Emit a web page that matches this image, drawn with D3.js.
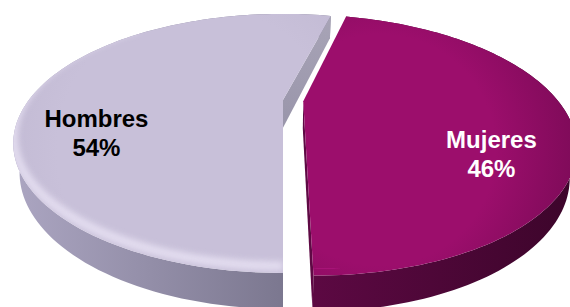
<!DOCTYPE html>
<html lang="es">
<head>
<meta charset="UTF-8">
<title>Hombres / Mujeres</title>
<script src="https://cdnjs.cloudflare.com/ajax/libs/d3/7.8.5/d3.min.js"></script>
<style>
  html, body { margin: 0; padding: 0; background: #fff; }
  svg { display: block; }
  text { font-family: "Liberation Sans", Arial, sans-serif; font-weight: bold; font-size: 24px; }
</style>
</head>
<body>
<svg id="chart" width="570" height="307"></svg>
<script>
// data
const categories = ["Mujeres", "Hombres"];
const values = [46, 54];
const pctLabels = ["46%", "54%"];

const topColors = ["#9c0e6c", "#c8c0d9"];
const rimColors = ["#7a0a56", "#bdb5cf"];
const wallColors = [["#5e0944", "#3d052b"], ["#aca6c2", "#7b778f"]];
const textColors = ["#fff", "#000"];
const explode = [0.08, 0];

const width = 570, height = 307;
const svg = d3.select("#chart");

// simple perspective camera looking down on the pie
const cam = { cx: 283, cy: 100, F: 676, D: 2.66, tilt: 26.9 * Math.PI / 180, thick: 0.125 };
const sa = Math.sin(cam.tilt), ca = Math.cos(cam.tilt);
const camPos = [0, -cam.D * ca, cam.D * sa];

function project(x, y, z) {
    const up = y * sa + z * ca;
    const depth = cam.D + y * ca - z * sa;
    return [cam.cx + cam.F * x / depth, cam.cy - cam.F * up / depth];
}

const total = d3.sum(values);
const start = Math.PI - 2 * Math.PI * values[0] / total;
const pie = d3.pie().sort(null).value(d => d)
    .startAngle(start).endAngle(start + 2 * Math.PI);
const arcs = pie(values);

const line = d3.line();

function arcPts(a0, a1, z, off, n) {
    const pts = [];
    for (let i = 0; i <= n; i++) {
        const a = a0 + (a1 - a0) * i / n;
        pts.push(project(off[0] + Math.sin(a), off[1] + Math.cos(a), z));
    }
    return pts;
}

const defs = svg.append("defs");
defs.append("filter").attr("id", "soft")
    .append("feGaussianBlur").attr("stdDeviation", 3);

// gradients
arcs.forEach((d, i) => {
    const wg = defs.append("linearGradient").attr("id", "wall" + i)
        .attr("gradientUnits", "userSpaceOnUse")
        .attr("x1", i === 1 ? 10 : 300).attr("x2", i === 1 ? 285 : 570)
        .attr("y1", 0).attr("y2", 0);
    wg.append("stop").attr("offset", 0).attr("stop-color", wallColors[i][0]);
    wg.append("stop").attr("offset", 1).attr("stop-color", wallColors[i][1]);

    const tg = defs.append("radialGradient").attr("id", "top" + i)
        .attr("gradientUnits", "userSpaceOnUse")
        .attr("cx", i === 1 ? 200 : 380).attr("cy", 150)
        .attr("r", i === 1 ? 260 : 210);
    tg.append("stop").attr("offset", 0.55).attr("stop-color", topColors[i]);
    tg.append("stop").attr("offset", 1).attr("stop-color", rimColors[i]);
});

const side = defs.append("linearGradient").attr("id", "sideH")
    .attr("gradientUnits", "userSpaceOnUse")
    .attr("x1", 0).attr("y1", 0).attr("x2", 0).attr("y2", 120);
side.append("stop").attr("offset", 0).attr("stop-color", "#aaa6b8");
side.append("stop").attr("offset", 1).attr("stop-color", "#9a96ab");

const t = -cam.thick;
const order = [1, 0];  // far slice first
const labelShift = [-3, -8];

order.forEach(i => {
    const d = arcs[i];
    const a0 = d.startAngle, a1 = d.endAngle;
    const mid = (a0 + a1) / 2;
    const off = [explode[i] * Math.sin(mid), explode[i] * Math.cos(mid)];
    const g = svg.append("g");

    // outer curved wall
    const top = arcPts(a0, a1, 0, off, 120);
    const bot = arcPts(a0, a1, t, off, 120).reverse();
    g.append("path").attr("d", line(top.concat(bot)) + "Z")
        .attr("fill", `url(#wall${i})`);

    // radial walls that face the camera
    [[a0, -1], [a1, 1]].forEach(([a, s]) => {
        const n = [s * Math.cos(a), -s * Math.sin(a), 0];
        const v = [camPos[0] - off[0], camPos[1] - off[1], camPos[2]];
        if (n[0] * v[0] + n[1] * v[1] + n[2] * v[2] <= 0.02) return;
        const ex = off[0] + Math.sin(a), ey = off[1] + Math.cos(a);
        const quad = [project(off[0], off[1], 0), project(ex, ey, 0),
                      project(ex, ey, t), project(off[0], off[1], t)];
        g.append("path").attr("d", line(quad) + "Z")
            .attr("fill", i === 1 ? "url(#sideH)" : wallColors[i][0]);
    });

    // top face
    const face = [project(off[0], off[1], 0)].concat(top);
    const facePath = line(face) + "Z";
    g.append("path").attr("d", facePath).attr("fill", `url(#top${i})`);

    // soft highlight along the front rim
    const clipId = "clip" + i;
    defs.append("clipPath").attr("id", clipId).append("path").attr("d", facePath);
    const hiA0 = Math.max(a0, Math.PI * 0.98), hiA1 = Math.min(a1, Math.PI * 1.75);
    if (hiA1 > hiA0) {
        const hi = arcPts(hiA0, hiA1, 0, off, 60).map(p => [p[0], p[1] - 7]);
        g.append("path").attr("d", line(hi))
            .attr("fill", "none")
            .attr("stroke", i === 1 ? "#ebe5f6" : "#b01580")
            .attr("stroke-width", 9)
            .attr("opacity", 0.8)
            .attr("filter", "url(#soft)")
            .attr("clip-path", `url(#${clipId})`);
    }

    // label
    const r = 0.73;
    const lp = project(off[0] + r * Math.sin(mid), off[1] + r * Math.cos(mid), 0);
    const lx = lp[0] + labelShift[i];
    const txt = g.append("text")
        .attr("text-anchor", "middle")
        .attr("fill", textColors[i])
        .attr("x", lx)
        .attr("y", lp[1] + (i === 0 ? 36 : 37));
    txt.append("tspan").attr("x", lx).text(categories[i]);
    txt.append("tspan").attr("x", lx).attr("dy", 29).text(pctLabels[i]);
});
</script>
</body>
</html>
